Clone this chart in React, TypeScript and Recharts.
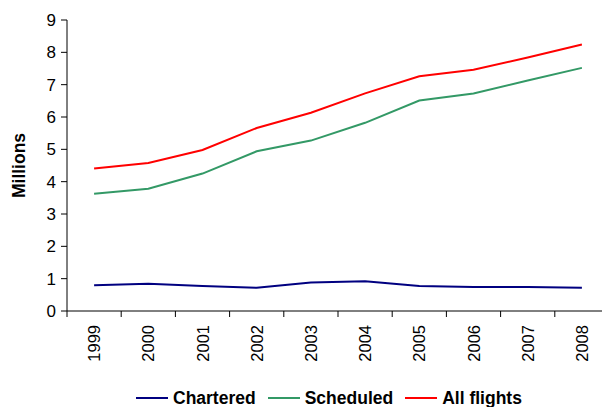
import { LineChart, Line, XAxis, YAxis, Legend } from "recharts";

const years = ["1999", "2000", "2001", "2002", "2003", "2004", "2005", "2006", "2007", "2008"];
const chartered = [0.8, 0.84, 0.77, 0.72, 0.88, 0.92, 0.77, 0.74, 0.74, 0.72];
const scheduled = [3.63, 3.78, 4.25, 4.94, 5.27, 5.82, 6.51, 6.73, 7.13, 7.52];
const allFlights = [4.41, 4.58, 4.98, 5.66, 6.13, 6.73, 7.26, 7.46, 7.84, 8.24];
const yTicks = [0, 1, 2, 3, 4, 5, 6, 7, 8, 9];

const series = [
  { key: "chartered", name: "Chartered", color: "#000080" },
  { key: "scheduled", name: "Scheduled", color: "#339966" },
  { key: "allFlights", name: "All flights", color: "#ff0000" },
];

const data = years.map((year, i) => ({
  year,
  chartered: chartered[i],
  scheduled: scheduled[i],
  allFlights: allFlights[i],
}));

const FONT = "Arial, 'Liberation Sans', sans-serif";
const W = 612;
const H = 407;
const Y_AXIS_W = 67;
const RIGHT = 3;
const HALF_BAND = (W - Y_AXIS_W - RIGHT) / years.length / 2;

function YearTick({ x, y, payload }: { x?: number; y?: number; payload?: { value: string } }) {
  if (x == null || y == null || !payload) return null;
  const ty = y + 14;
  return (
    <g>
      <line x1={x - HALF_BAND} y1={y} x2={x - HALF_BAND} y2={y + 6} stroke="#000" strokeWidth={1} />
      <text
        x={x}
        y={ty}
        transform={`rotate(-90, ${x}, ${ty})`}
        textAnchor="end"
        dominantBaseline="central"
        fill="#000"
        fontSize={16.5}
        fontFamily={FONT}
      >
        {payload.value}
      </text>
    </g>
  );
}

function LegendRow() {
  return (
    <div
      style={{
        display: "flex",
        alignItems: "center",
        paddingLeft: 136,
        fontFamily: FONT,
        fontWeight: "bold",
        fontSize: 17.5,
        color: "#000",
        height: 30,
        paddingTop: 12,
        boxSizing: "border-box",
      }}
    >
      {series.map((s) => (
        <div key={s.key} style={{ display: "flex", alignItems: "center", marginRight: 12 }}>
          <div style={{ width: 32, height: 2, background: s.color, marginRight: 5 }} />
          <span>{s.name}</span>
        </div>
      ))}
    </div>
  );
}

export default function App() {
  return (
    <div style={{ position: "absolute", left: 0, top: 0, width: 602, height: H, overflow: "hidden", background: "#fff" }}>
      <LineChart width={W} height={H} data={data} margin={{ top: 20, right: RIGHT, left: 0, bottom: 0 }}>
        <XAxis
          dataKey="year"
          height={66}
          tickSize={0}
          tickMargin={0}
          tick={<YearTick />}
          interval={0}
          padding={{ left: HALF_BAND, right: HALF_BAND }}
          axisLine={{ stroke: "#000" }}
        />
        <YAxis
          width={Y_AXIS_W}
          domain={[0, 9]}
          ticks={yTicks}
          interval={0}
          tickSize={6}
          tickMargin={5}
          axisLine={{ stroke: "#000" }}
          tickLine={{ stroke: "#000" }}
          tick={{ fill: "#000", fontSize: 17, fontFamily: FONT }}
          label={{
            value: "Millions",
            angle: -90,
            position: "insideLeft",
            offset: 19,
            style: { fontFamily: FONT, fontWeight: "bold", fontSize: 17.5, fill: "#000", textAnchor: "middle" },
          }}
        />
        <Legend verticalAlign="bottom" height={30} wrapperStyle={{ left: 0, width: W }} content={<LegendRow />} />
        {series.map((s) => (
          <Line
            key={s.key}
            type="linear"
            dataKey={s.key}
            name={s.name}
            stroke={s.color}
            strokeWidth={2}
            dot={false}
            activeDot={false}
            isAnimationActive={false}
          />
        ))}
      </LineChart>
    </div>
  );
}
